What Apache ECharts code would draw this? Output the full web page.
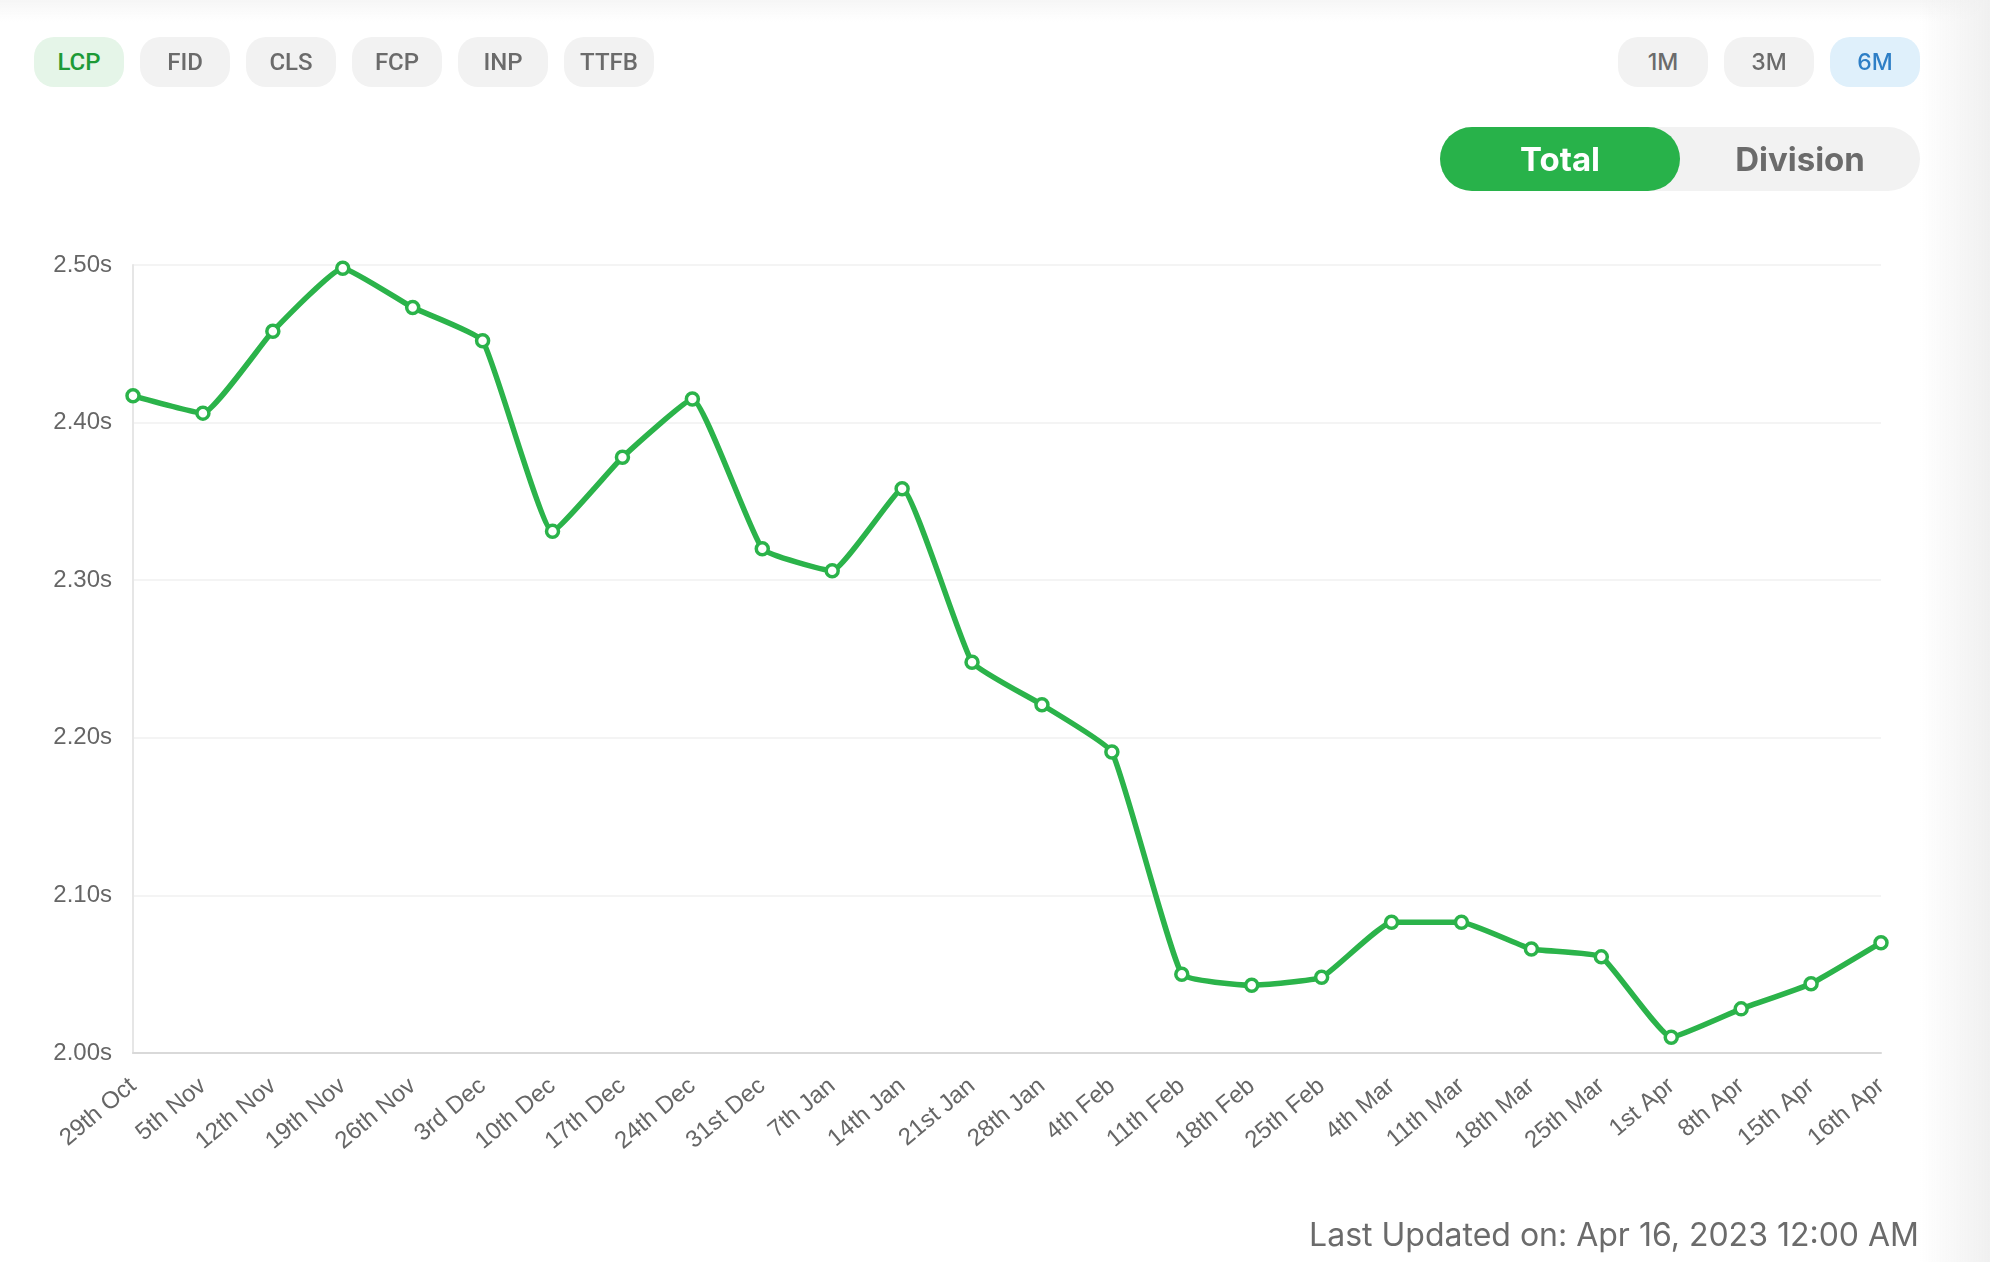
<!DOCTYPE html>
<html>
<head>
<meta charset="utf-8">
<script src="https://cdn.jsdelivr.net/npm/echarts@6/dist/echarts.min.js"></script>
<style>
  html, body { margin: 0; padding: 0; width: 1990px; height: 1262px; overflow: hidden; background: #ffffff; }
  #chart { position: absolute; left: 0; top: 0; width: 1990px; height: 1262px; }
  .shade-r { position: absolute; right: 0; top: 0; width: 70px; height: 1262px;
    background: linear-gradient(to right, rgba(240,240,240,0) 0%, rgba(240,240,240,1) 100%); pointer-events: none; }
  .shade-t { position: absolute; left: 0; top: 0; width: 1990px; height: 22px;
    background: linear-gradient(to bottom, rgba(246,246,246,1) 0%, rgba(255,255,255,0) 100%); pointer-events: none; }
  .pill { position: absolute; top: 37px; width: 90px; height: 50px; border-radius: 20px; background: #f2f2f2;
    color: #6b6b6b; font-family: Roboto, "Liberation Sans", sans-serif; font-size: 24px; font-weight: 500;
    display: flex; align-items: center; justify-content: center; }
  .pill.rng { font-family: Inter, "Open Sans", sans-serif; font-size: 23px; font-weight: 500; }
  .pill.on-g { background: #e5f5e8; color: #1d9a37; }
  .pill.on-b { background: #dff0fb; color: #2e7fc6; }
  .toggle { position: absolute; left: 1440px; top: 127px; width: 480px; height: 64px; border-radius: 32px; background: #f2f2f2; }
  .toggle .t { position: absolute; top: 0; height: 64px; display: flex; align-items: center; justify-content: center;
    font-family: Inter, "Open Sans", sans-serif; font-weight: 700; font-size: 33px; }
  .toggle .total { left: 0; width: 240px; background: #28b24a; color: #fff; border-radius: 32px; }
  .toggle .div { left: 240px; width: 240px; color: #6b6b6b; }
  .foot { position: absolute; right: 71px; top: 1215px; font-family: Inter, "Open Sans", sans-serif; font-size: 32px;
    line-height: 40px; color: #6b6b6b; white-space: nowrap; }
</style>
</head>
<body>
<div id="chart"></div>
<div class="shade-t"></div>
<div class="shade-r"></div>
<div id="pills"></div>
<div class="toggle"><div class="t total">Total</div><div class="t div">Division</div></div>
<div class="foot">Last Updated on: Apr 16, 2023 12:00 AM</div>
<script>
const metricTabs = ["LCP", "FID", "CLS", "FCP", "INP", "TTFB"];
const rangeTabs = ["1M", "3M", "6M"];
const categories = ["29th Oct", "5th Nov", "12th Nov", "19th Nov", "26th Nov", "3rd Dec", "10th Dec", "17th Dec",
  "24th Dec", "31st Dec", "7th Jan", "14th Jan", "21st Jan", "28th Jan", "4th Feb", "11th Feb", "18th Feb",
  "25th Feb", "4th Mar", "11th Mar", "18th Mar", "25th Mar", "1st Apr", "8th Apr", "15th Apr", "16th Apr"];
const lcpValues = [2.417, 2.406, 2.458, 2.498, 2.473, 2.452, 2.331, 2.378, 2.415, 2.320, 2.306, 2.358, 2.248,
  2.221, 2.191, 2.050, 2.043, 2.048, 2.083, 2.083, 2.066, 2.061, 2.010, 2.028, 2.044, 2.070];
const yTicks = [2.0, 2.1, 2.2, 2.3, 2.4, 2.5];

const pillBox = document.getElementById('pills');
metricTabs.forEach((t, i) => {
  const d = document.createElement('div');
  d.className = 'pill' + (i === 0 ? ' on-g' : '');
  d.style.left = (34 + i * 106) + 'px';
  d.textContent = t;
  pillBox.appendChild(d);
});
rangeTabs.forEach((t, i) => {
  const d = document.createElement('div');
  d.className = 'pill rng' + (i === 2 ? ' on-b' : '');
  d.style.left = (1618 + i * 106) + 'px';
  d.textContent = t;
  pillBox.appendChild(d);
});

const chart = echarts.init(document.getElementById('chart'), null, { renderer: 'canvas' });
chart.setOption({
  animation: false,
  grid: { left: 133, right: 109, top: 265, bottom: 209, containLabel: false },
  xAxis: {
    type: 'category', data: categories, boundaryGap: false,
    axisLine: { show: true, lineStyle: { color: '#d9d9d9', width: 2 } },
    axisTick: { show: false },
    splitLine: { show: false },
    axisLabel: { rotate: 40, margin: 30, color: '#666', fontSize: 24, fontFamily: '"Liberation Sans", Arial, sans-serif', interval: 0 }
  },
  yAxis: {
    type: 'value', min: yTicks[0], max: yTicks[yTicks.length - 1], interval: 0.1,
    axisLine: { show: true, lineStyle: { color: '#e6e6e6', width: 2 } },
    axisTick: { show: false },
    splitLine: { show: true, lineStyle: { color: '#f0f0f0', width: 1.5 } },
    axisLabel: { margin: 21, color: '#666', fontSize: 24, fontFamily: '"Liberation Sans", Arial, sans-serif',
      formatter: v => v.toFixed(2) + 's' }
  },
  series: [{
    type: 'line', data: lcpValues, smooth: 0.12,
    lineStyle: { color: '#2bb34a', width: 5.5 },
    itemStyle: { color: '#ffffff', borderColor: '#2bb34a', borderWidth: 3.5 },
    symbol: 'circle', symbolSize: 12, showAllSymbol: true
  }]
});
</script>
</body>
</html>
